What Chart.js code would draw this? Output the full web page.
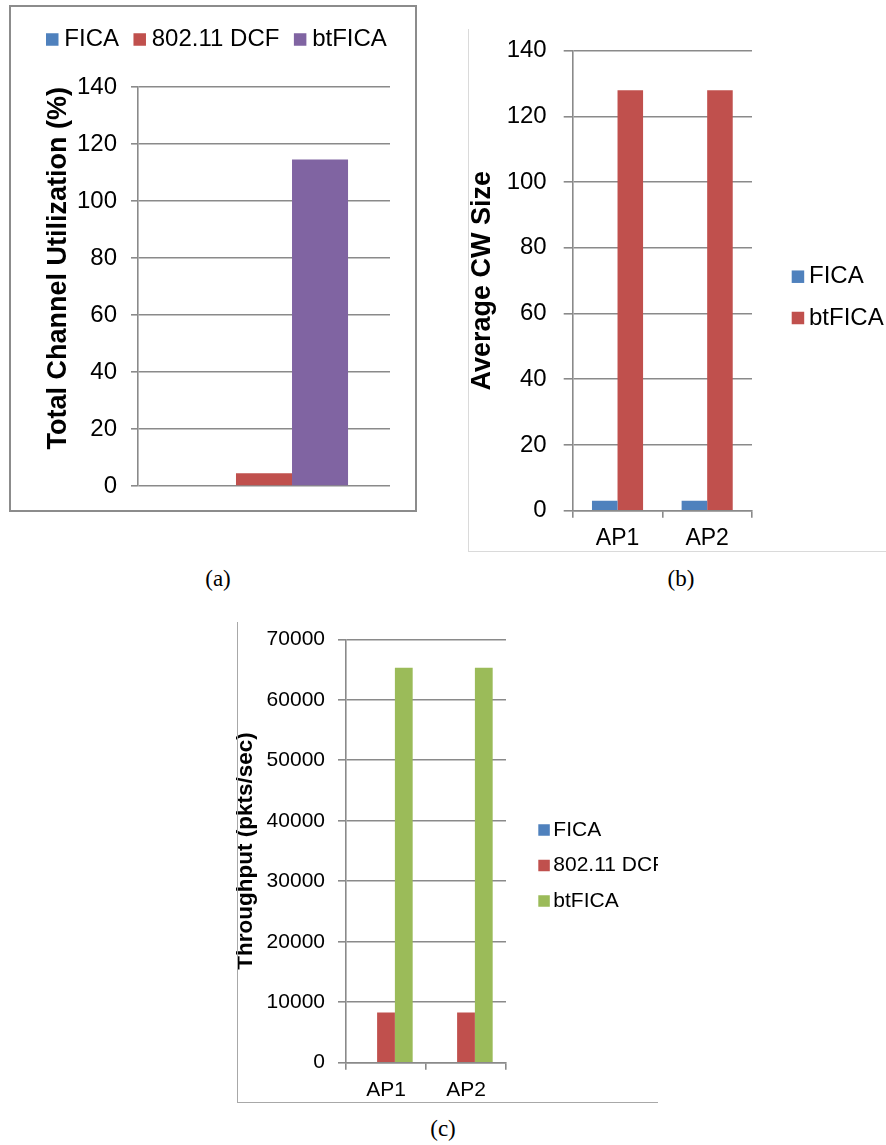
<!DOCTYPE html>
<html>
<head>
<meta charset="utf-8">
<title>FICA / 802.11 DCF / btFICA</title>
<script src="https://cdn.jsdelivr.net/npm/chart.js@4.4.1/dist/chart.umd.min.js"></script>
<style>
  html, body { margin: 0; padding: 0; background: #fff; }
  body { position: relative; width: 886px; height: 1145px; overflow: hidden; }
  .box { position: absolute; }
  .frame { position: absolute; left: 9px; top: 5px; width: 408px; height: 507px;
           border: 2px solid #8c8c8c; box-sizing: border-box; }
  .rule { position: absolute; z-index: 2; }
  .caption { position: absolute; font-family: 'Liberation Serif', 'DejaVu Serif', serif;
             font-size: 23px; line-height: 23px; transform: translate(-50%, -50%); color: #000; }
</style>
</head>
<body>

<div class="frame"></div>
<div class="box" style="left:11px;top:7px"><canvas id="utilChart" width="404" height="503"></canvas></div>

<div class="rule" style="left:468px;top:29px;width:1px;height:523px;background:#dadada"></div>
<div class="rule" style="left:468px;top:551px;width:418px;height:1px;background:#dadada"></div>
<div class="box" style="left:469px;top:29px"><canvas id="cwChart" width="417" height="522"></canvas></div>

<div class="box" style="left:234px;top:622px"><canvas id="thrChart" width="424" height="480"></canvas></div>
<div class="rule" style="left:237px;top:622px;width:1px;height:481px;background:#a8a8a8"></div>
<div class="rule" style="left:237px;top:1102px;width:421px;height:1px;background:#a8a8a8"></div>

<div class="caption" style="left:218px;top:578px">(a)</div>
<div class="caption" style="left:681px;top:578px">(b)</div>
<div class="caption" style="left:443px;top:1128px">(c)</div>

<script>
// --- Dados ---
const schemes = ['FICA', '802.11 DCF', 'btFICA'];

// (a) utilização total do canal (%)
const utilLabels = [''];
const utilFica = [0.3];
const utilDcf = [4.5];
const utilBtfica = [114.6];
const utilTicks = [0, 20, 40, 60, 80, 100, 120, 140];

// (b) tamanho médio da CW por AP
const apLabels = ['AP1', 'AP2'];
const cwFica = [3, 3];
const cwBtfica = [128, 128];
const cwTicks = [0, 20, 40, 60, 80, 100, 120, 140];

// (c) vazão por AP (pkts/sec)
const thrFica = [0, 0];
const thrDcf = [8300, 8300];
const thrBtfica = [65300, 65300];
const thrTicks = [0, 10000, 20000, 30000, 40000, 50000, 60000, 70000];

// --- Estilo comum ---
const FONT = "'Liberation Sans', Arial, sans-serif";
const GRID = '#8a8a8a';
const BLUE = '#4F81BD';
const RED = '#C0504D';
const PURPLE = '#8064A2';
const GREEN = '#9BBB59';

Chart.defaults.font.family = FONT;
Chart.defaults.color = '#000';
Chart.defaults.animation = false;

// Legenda simples com quadradinho + texto, desenhada no próprio canvas
const swatchLegend = {
    id: 'swatchLegend',
    afterDraw(chart, args, opts) {
        const ctx = chart.ctx;
        ctx.save();
        ctx.font = opts.size + 'px ' + FONT;
        ctx.textBaseline = 'middle';
        let x = opts.x;
        let y = opts.y;
        chart.data.datasets.forEach(ds => {
            ctx.fillStyle = ds.backgroundColor;
            ctx.fillRect(x, y - opts.box / 2, opts.box, opts.box);
            ctx.fillStyle = '#000';
            ctx.fillText(ds.label, x + opts.box + opts.gap, y);
            if (opts.horizontal) {
                x += opts.box + opts.gap + ctx.measureText(ds.label).width + opts.spacing;
            } else {
                y += opts.step;
            }
        });
        ctx.restore();
    }
};

function yAxis(ticks, title, fontSize, titleSize, tickPad, tickLen, width, titleAlign) {
    return {
        min: ticks[0],
        max: ticks[ticks.length - 1],
        afterBuildTicks: s => { s.ticks = ticks.map(v => ({ value: v })); },
        ticks: {
            font: { size: fontSize },
            padding: tickPad,
            callback: v => String(v)
        },
        grid: { color: GRID, lineWidth: 1.6, tickLength: tickLen },
        border: { color: GRID, width: 1.6 },
        title: {
            display: true,
            text: title,
            align: titleAlign || 'center',
            font: { size: titleSize, weight: 'bold', lineHeight: 1 },
            padding: 0
        },
        // largura fixa e sem folga extra em cima/embaixo (a área do gráfico vem do layout.padding)
        afterFit: s => {
            s.width = width;
            s.paddingTop = 0;
            s.paddingBottom = 0;
        }
    };
}

function xAxis(fontSize, tickPad, height) {
    return {
        grid: { display: true, drawOnChartArea: false, color: GRID, lineWidth: 1.6, tickLength: 7, offset: true },
        border: { color: GRID, width: 1.6 },
        ticks: { font: { size: fontSize }, padding: tickPad },
        afterFit: s => { s.height = height; }
    };
}

// --- (a) Total Channel Utilization ---
new Chart(document.getElementById('utilChart'), {
    type: 'bar',
    data: {
        labels: utilLabels,
        datasets: [
            { label: schemes[0], data: utilFica, backgroundColor: BLUE },
            { label: schemes[1], data: utilDcf, backgroundColor: RED },
            { label: schemes[2], data: utilBtfica, backgroundColor: PURPLE }
        ]
    },
    plugins: [swatchLegend],
    options: {
        responsive: false,
        categoryPercentage: 0.667,
        barPercentage: 1,
        layout: { padding: { left: 34, right: 25, top: 80, bottom: 0 } },
        plugins: {
            legend: { display: false },
            tooltip: { enabled: false },
            swatchLegend: { horizontal: true, x: 35, y: 32.5, box: 12.5, gap: 5.8, spacing: 14.5, size: 24 }
        },
        scales: {
            x: {
                grid: { display: false },
                border: { display: false },
                ticks: { display: false },
                afterFit: s => { s.height = 24; }
            },
            // título encostado no topo do eixo
            y: yAxis(utilTicks, 'Total Channel Utilization (%)', 24, 27, 14, 7, 93, 'end')
        }
    }
});

// --- (b) Average CW Size ---
new Chart(document.getElementById('cwChart'), {
    type: 'bar',
    data: {
        labels: apLabels,
        datasets: [
            { label: schemes[0], data: cwFica, backgroundColor: BLUE },
            { label: schemes[2], data: cwBtfica, backgroundColor: RED }
        ]
    },
    plugins: [swatchLegend],
    options: {
        responsive: false,
        categoryPercentage: 0.57,
        barPercentage: 1,
        layout: { padding: { left: 0, right: 134, top: 21.7, bottom: 0 } },
        plugins: {
            legend: { display: false },
            tooltip: { enabled: false },
            swatchLegend: { horizontal: false, x: 322.7, y: 247.7, box: 12.5, gap: 4.8, step: 41.3, size: 24 }
        },
        scales: {
            x: xAxis(23, 7, 40.3),
            y: yAxis(cwTicks, 'Average CW Size', 24, 27, 17, 9, 103.7)
        }
    }
});

// --- (c) Throughput ---
new Chart(document.getElementById('thrChart'), {
    type: 'bar',
    data: {
        labels: apLabels,
        datasets: [
            { label: schemes[0], data: thrFica, backgroundColor: BLUE },
            { label: schemes[1], data: thrDcf, backgroundColor: RED },
            { label: schemes[2], data: thrBtfica, backgroundColor: GREEN }
        ]
    },
    plugins: [swatchLegend],
    options: {
        responsive: false,
        categoryPercentage: 0.667,
        barPercentage: 1,
        layout: { padding: { left: 1, right: 152, top: 17.3, bottom: 0 } },
        plugins: {
            legend: { display: false },
            tooltip: { enabled: false },
            swatchLegend: { horizontal: false, x: 304.3, y: 208, box: 11.5, gap: 3.5, step: 35.5, size: 21 }
        },
        scales: {
            x: xAxis(21, 8, 39.3),
            y: yAxis(thrTicks, 'Throughput (pkts/sec)', 21, 22.5, 13, 8, 111)
        }
    }
});
</script>
</body>
</html>
